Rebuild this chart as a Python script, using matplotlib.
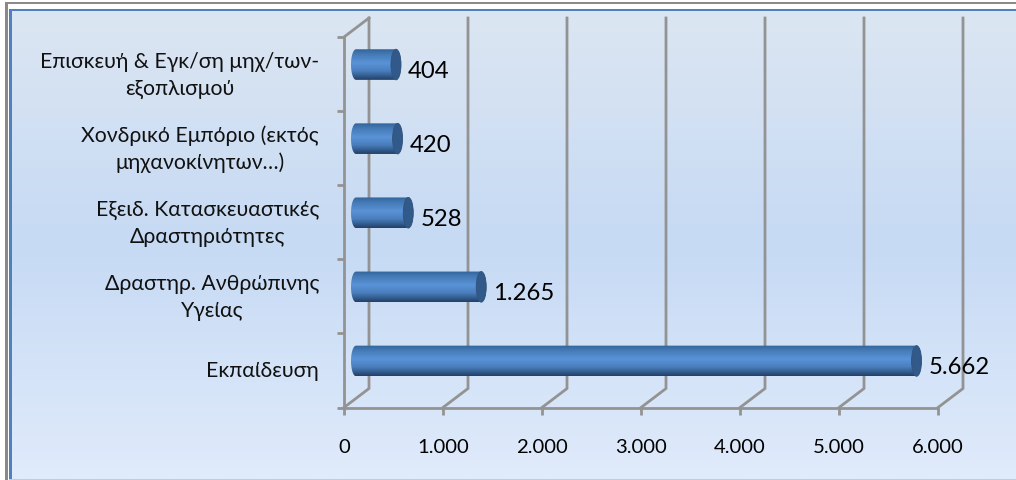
import numpy as np
import matplotlib.pyplot as plt
from matplotlib.colors import LinearSegmentedColormap
from matplotlib.patches import Ellipse, PathPatch, Rectangle
from matplotlib.path import Path
from matplotlib.ticker import FuncFormatter

# datos, de abajo hacia arriba
categorias = ["Εκπαίδευση",
              "Δραστηρ. Ανθρώπινης\nΥγείας",
              "Εξειδ. Κατασκευαστικές\nΔραστηριότητες",
              "Χονδρικό Εμπόριο (εκτός\nμηχανοκίνητων…)",
              "Επισκευή & Εγκ/ση μηχ/των-\nεξοπλισμού"]
valores = [5662, 1265, 528, 420, 404]
marcas_x = [0, 1000, 2000, 3000, 4000, 5000, 6000]

plt.rcParams['font.family'] = ['Lato', 'DejaVu Sans']

W, H = 1016, 481
fig = plt.figure(figsize=(W / 100, H / 100), dpi=100)

# fondo en pixeles
fondo = fig.add_axes([0, 0, 1, 1])
fondo.set_xlim(0, W)
fondo.set_ylim(H, 0)
fondo.axis('off')
cmap_fondo = LinearSegmentedColormap.from_list(
    'fondo', [(0, '#dce6f2'), (0.5, '#c6daf4'), (1, '#e0ebfb')])
fondo.imshow(np.linspace(0, 1, 256).reshape(-1, 1), cmap=cmap_fondo, aspect='auto',
             extent=[9, W, 480, 10])
fondo.set_xlim(0, W)
fondo.set_ylim(H, 0)
fondo.add_patch(Rectangle((5, 3), W, 2.2, color='#8a8a8a', lw=0))
fondo.add_patch(Rectangle((5, 3), 3, H, color='#8a8a8a', lw=0))
fondo.add_patch(Rectangle((9, 9.5), W, 2.5, color='#4f81bd', lw=0))
fondo.add_patch(Rectangle((9, 9.5), 3, H, color='#4f81bd', lw=0))
fondo.add_patch(Rectangle((9, 479.8), W, 1.2, color='#b9cde5', lw=0))

# ejes frontales: x 344-938 px, y 408.5-38 px
x0, x1, y0, y1 = 344, 938, 408.5, 38
ax = fig.add_axes([x0 / W, 1 - y0 / H, (x1 - x0) / W, (y0 - y1) / H])
ax.patch.set_alpha(0)
ax.set_autoscale_on(False)
ax.set_xlim(0, 6000)
ax.set_ylim(0, 5)

px_x = 6000 / (x1 - x0)
px_y = 5 / (y0 - y1)

gris = '#939393'
grosor = 2.0
fondo_x = 25 * px_x
fondo_y = 19 * px_y

# paredes del fondo
for m in marcas_x:
    ax.plot([m, m + fondo_x, m + fondo_x], [0, fondo_y, 5 + fondo_y],
            color=gris, lw=grosor, clip_on=False, solid_joinstyle='miter', zorder=1)
ax.plot([0, fondo_x], [5, 5 + fondo_y], color=gris, lw=grosor, clip_on=False, zorder=1)

for lado in ['top', 'right']:
    ax.spines[lado].set_visible(False)
for lado in ['left', 'bottom']:
    ax.spines[lado].set_color(gris)
    ax.spines[lado].set_linewidth(grosor)

ax.set_xticks(marcas_x)
ax.xaxis.set_major_formatter(FuncFormatter(lambda v, p: f"{int(v):,}".replace(',', '.')))
ax.tick_params(axis='x', length=5, width=grosor, color=gris, labelsize=14.6, pad=17, labelcolor='black')

ax.set_yticks(range(6))
ax.set_yticklabels([])
ax.tick_params(axis='y', which='major', length=5, width=grosor, color=gris)
pos_cat = np.arange(len(categorias)) + 0.5
for y, cat in zip(pos_cat, categorias):
    ax.annotate(cat, (0, y), xytext=(-25, 0), textcoords='offset pixels', ha='right', va='center',
                multialignment='center', fontsize=15.3, linespacing=1.42, color='#111111')

# cilindros
cmap_barra = LinearSegmentedColormap.from_list(
    'barra', [(0, '#33639a'), (0.15, '#4378b3'), (0.45, '#5a93d8'), (0.7, '#4a7fbe'),
              (0.9, '#2f5685'), (1, '#223f66')])
grad = np.linspace(0, 1, 128).reshape(-1, 1)
medio_x = 12 * px_x
medio_y = 9.5 * px_y
alto = 15.3 * px_y
ancho_tapa = 5 * px_x
t = np.linspace(np.pi / 2, 3 * np.pi / 2, 40)

for y, v in zip(pos_cat, valores):
    yc = y + medio_y
    xi = medio_x
    xf = v + medio_x
    # contorno: lado izquierdo redondeado y lado derecho con la tapa
    xs = np.r_[xi + ancho_tapa * np.cos(t), xf + ancho_tapa * np.cos(t[::-1])]
    ys = np.r_[yc + alto * np.sin(t), yc + alto * np.sin(t[::-1])]
    contorno = PathPatch(Path(np.c_[xs, ys]), transform=ax.transData, fc='none', ec='none')
    ax.add_patch(contorno)
    im = ax.imshow(grad, cmap=cmap_barra, aspect='auto', zorder=3,
                   extent=[xi - ancho_tapa, xf + ancho_tapa, yc - alto, yc + alto])
    im.set_clip_path(contorno)
    ax.add_patch(Ellipse((xf, yc), 2 * ancho_tapa, 2 * alto, fc='#31598a', ec='#2a4d78', lw=0.6,
                         zorder=4))
    ax.annotate(f"{v:,}".replace(',', '.'), (xf + ancho_tapa, yc), xytext=(7, -6),
                textcoords='offset pixels', ha='left', va='center', fontsize=17.2,
                color='black', zorder=5)

ax.set_xlim(0, 6000)
ax.set_ylim(0, 5)

fig.savefig('out.png', dpi=100)
